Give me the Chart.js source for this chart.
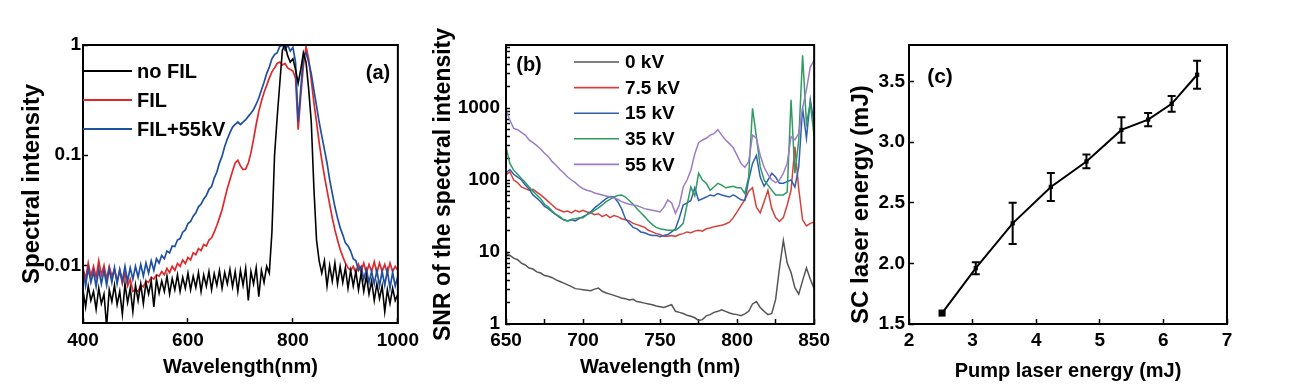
<!DOCTYPE html>
<html><head><meta charset="utf-8">
<script src="https://cdn.jsdelivr.net/npm/chart.js@4.4.1/dist/chart.umd.min.js"></script>
<style>
html,body{margin:0;padding:0;background:#fff;width:1293px;height:390px;overflow:hidden}
canvas{position:absolute;top:0}
</style></head><body>
<canvas id="ca" width="430" height="390" style="left:0px"></canvas>
<canvas id="cb" width="410" height="390" style="left:430px"></canvas>
<canvas id="cc" width="453" height="390" style="left:840px"></canvas>
<script>
// ---------- Panel (a) data: 400..1000 nm, 5 nm step ----------
const labelsA = ['no FIL', 'FIL', 'FIL+55kV'];
const ticksAX = [400, 600, 800, 1000];
const ticksAY = [0.01, 0.1, 1];
const noFIL = [
 .006,.0042,.0065,.0048,.0058,.004,.0062,.0045,.0055,.0028,
 .006,.0047,.0066,.0044,.0058,.0036,.0068,.0046,.0062,.0038,
 .0066,.0048,.0068,.0045,.007,.0055,.0072,.0042,.0075,.0056,
 .0072,.0058,.008,.0055,.0076,.006,.0082,.0058,.0078,.0062,
 .0085,.006,.008,.0063,.0086,.0058,.0082,.0065,.0088,.006,
 .0084,.0066,.009,.0062,.0086,.0068,.0092,.0064,.0088,.0058,
 .009,.0066,.0094,.0048,.0088,.0068,.0095,.0052,.009,.007,
 .0098,.0085,.02,.1,.22,.45,.9,1.0,.8,.7,
 .75,.6,.45,.6,.85,.7,.4,.2,.05,.017,
 .011,.0085,.011,.0065,.01,.0072,.0105,.0068,.0098,.007,
 .0095,.0062,.009,.0065,.0088,.006,.0085,.0058,.008,.0055,
 .0072,.0048,.0068,.005,.0065,.0038,.006,.0045,.0062,.0048,
 .0055];
const fil = [
 .0095,.0075,.0105,.008,.0098,.0078,.011,.0082,.01,.0075,
 .0098,.008,.0092,.0072,.009,.0068,.0085,.0065,.0075,.0058,
 .006,.0058,.0066,.0064,.0072,.007,.0078,.0075,.0082,.008,
 .0088,.0082,.0094,.0086,.0098,.009,.0104,.0098,.0112,.0104,
 .0118,.0112,.013,.0125,.0142,.0136,.0155,.015,.017,.0178,
 .02,.023,.027,.032,.04,.05,.06,.072,.085,.09,
 .08,.074,.075,.085,.105,.14,.19,.25,.31,.37,
 .43,.5,.57,.62,.68,.7,.66,.68,.62,.6,
 .58,.5,.17,.35,.65,.97,.75,.48,.3,.2,
 .13,.09,.065,.048,.036,.027,.021,.017,.014,.012,
 .0105,.0095,.009,.0098,.0085,.0102,.0088,.0105,.0085,.0102,
 .0088,.0108,.0085,.0105,.0088,.0102,.0085,.0105,.0088,.0098,
 .009];
const fil55 = [
 .009,.0065,.0095,.007,.0088,.0064,.0092,.0068,.009,.0066,
 .0093,.007,.0095,.0068,.0092,.0072,.0098,.0072,.0095,.0075,
 .0098,.0078,.0102,.008,.0105,.0085,.011,.009,.0115,.0105,
 .0123,.0115,.0135,.013,.015,.0148,.017,.0175,.02,.021,
 .024,.025,.028,.03,.034,.036,.04,.043,.049,.052,
 .062,.07,.085,.098,.12,.14,.16,.18,.19,.2,
 .19,.2,.21,.225,.24,.26,.29,.33,.39,.46,
 .55,.63,.75,.82,.85,.97,1.0,.9,1.0,.88,
 .95,.7,.2,.4,.8,.85,.7,.55,.39,.28,
 .2,.15,.113,.085,.06,.045,.034,.027,.022,.019,
 .016,.015,.0135,.0115,.011,.009,.0098,.0075,.0092,.007,
 .0088,.0068,.009,.0065,.0088,.0066,.009,.0062,.0086,.0065,
 .008];

// ---------- Panel (b) data: 650..850 nm, 2.5 nm step ----------
const labelsB = ['0 kV', '7.5 kV', '15 kV', '35 kV', '55 kV'];
const ticksBYmajor = [1, 10, 100, 1000];
const kv0 = [
 9.6,9.0,8.2,7.8,7.0,6.6,6.0,5.8,5.3,5.1,
 4.7,4.6,4.4,4.1,3.9,3.7,3.5,3.3,3.1,3.05,
 3.0,2.95,2.9,3.05,3.15,2.85,2.7,2.6,2.5,2.4,
 2.3,2.25,2.15,2.2,2.05,2.0,1.95,1.9,1.85,1.78,
 1.74,1.7,1.78,1.85,1.5,1.45,1.4,1.32,1.28,1.22,
 1.12,1.15,1.3,1.35,1.45,1.5,1.58,1.5,1.42,1.38,
 1.35,1.3,1.38,1.5,1.9,2.05,1.7,1.5,1.35,1.4,
 2.2,6.0,14.5,7.0,5.2,3.2,2.6,4.0,6.0,4.2,
 3.1];
const kv75 = [
 118,130,100,92,80,76,72,74,68,62,
 56,50,45,40,38,36,37,35,38,36,
 38,36,35,33,34,31,33,30,32,31,
 29,28,27,25,24,23,22,20,19,18,
 17.5,16.5,16.5,17,16.5,17.5,18,19,18.5,19.5,
 20,19.5,21,21.5,22.5,23,23.5,24.5,26,30,
 36,44,53,70,78,42,35,50,72,40,
 30,26.5,30,45,72,290,75,28,23,25,
 26];
const kv15 = [
 125,140,120,110,100,85,75,62,56,50,
 43,40,36,33,30,28,27,28,27,29,
 31,33,36,41,45,50,55,59,58,50,
 40,29,25,22,21,19,18.5,17.5,17,17,
 16.3,17,17.5,19,21,30,45,48,52,78,
 52,55,58,62,60,65,62,60,58,62,
 58,53,52,100,170,220,110,82,100,124,
 110,90,90,95,100,80,152,1000,380,1300,
 600];
const kv35 = [
 290,170,137,120,105,92,80,70,62,55,
 46,42,37,33,31,28,27,28.5,29,30,
 30,33,35,38,41,45,50,54,58,61,
 62,58,52,46,40,35,31,27,24,22,
 21,20.5,20,20,20,22,25,45,80,60,
 124,100,90,72,80,90,85,78,80,82,
 78,78,65,110,990,400,152,100,85,72,
 62,62,62,68,1300,124,360,5400,610,1160,
 400];
const kv55 = [
 940,680,520,500,460,420,360,330,300,270,
 235,210,180,160,140,125,110,100,92,82,
 76,72,70,66,64,62,60,58,56,54,
 50,48,46,45,44,42,40,39,38,37,
 36,42,53,48,34.5,45,80,100,137,230,
 330,360,380,420,440,500,420,360,320,280,
 220,170,150,180,420,380,220,150,120,100,
 92,100,124,170,400,360,445,1000,1800,3700,
 4600];

// ---------- Panel (c) data ----------
const pumpE = [2.52, 3.05, 3.63, 4.23, 4.79, 5.34, 5.76, 6.13, 6.53];
const scE   = [1.59, 1.96, 2.33, 2.63, 2.84, 3.10, 3.185, 3.315, 3.555];
const scErr = [0, 0.05, 0.17, 0.115, 0.057, 0.105, 0.055, 0.065, 0.115];
const ticksCX = [2, 3, 4, 5, 6, 7];
const ticksCY = [1.5, 2.0, 2.5, 3.0, 3.5];

// ---------- helpers ----------
const F = "'Liberation Sans', Arial, Helvetica, sans-serif";
Chart.defaults.font.family = F;
Chart.defaults.color = '#000';
const lamA = []; for (let w = 400; w <= 1000; w += 5) lamA.push(w);
const lamB = []; for (let i = 0; i <= 80; i++) lamB.push(650 + 2.5 * i);
const pts = (xs, ys) => ys.map((y, i) => ({x: xs[i], y}));
const setTicks = vals => s => { s.ticks = vals.map(v => ({value: v})); };

function decor(o) {
  return {
    id: 'decor' + o.tag,
    afterDraw(chart) {
      const {ctx, chartArea: a} = chart;
      ctx.save();
      ctx.strokeStyle = '#000'; ctx.lineWidth = 2;
      ctx.strokeRect(a.left, a.top, a.right - a.left, a.bottom - a.top);
      if (o.legend) {
        const L = o.legend;
        ctx.font = 'bold ' + L.size + 'px ' + F;
        ctx.textBaseline = 'middle'; ctx.textAlign = 'left';
        chart.data.datasets.forEach((d, i) => {
          const y = L.y0 + i * L.dy;
          ctx.strokeStyle = d.borderColor; ctx.lineWidth = L.lw;
          ctx.beginPath(); ctx.moveTo(L.x1, y); ctx.lineTo(L.x2, y); ctx.stroke();
          ctx.fillStyle = '#000';
          ctx.fillText(d.label, L.tx, y + 1);
        });
      }
      ctx.font = 'bold ' + o.tagSize + 'px ' + F;
      ctx.textAlign = 'center'; ctx.textBaseline = 'middle'; ctx.fillStyle = '#000';
      ctx.fillText(o.tag, o.tagX, o.tagY);
      ctx.restore();
    }
  };
}

const errorBars = {
  id: 'errorBars',
  afterDatasetsDraw(chart) {
    const {ctx, scales: {x, y}} = chart;
    ctx.save(); ctx.strokeStyle = '#000'; ctx.lineWidth = 2;
    pumpE.forEach((xv, i) => {
      const e = scErr[i]; if (!e) return;
      const px = x.getPixelForValue(xv);
      const yt = y.getPixelForValue(scE[i] + e), yb = y.getPixelForValue(scE[i] - e);
      ctx.beginPath();
      ctx.moveTo(px, yt); ctx.lineTo(px, yb);
      ctx.moveTo(px - 4, yt); ctx.lineTo(px + 4, yt);
      ctx.moveTo(px - 4, yb); ctx.lineTo(px + 4, yb);
      ctx.stroke();
    });
    ctx.restore();
  }
};

function axisX(o) {
  return {
    type: 'linear', min: o.min, max: o.max,
    afterBuildTicks: o.build, afterFit: s => { s.height = o.h; },
    border: {display: false},
    grid: {drawOnChartArea: false, drawTicks: true, tickLength: -5, tickWidth: 1.5, tickColor: '#000'},
    ticks: {font: {size: 19, weight: 'bold'}, color: '#000', padding: o.tp, maxRotation: 0, autoSkip: false, callback: o.cb},
    title: {display: true, text: o.title, font: {size: 20, weight: 'bold'}, color: '#000', padding: {top: 0, bottom: o.titlePad}}
  };
}
function axisY(o) {
  return {
    type: o.type, min: o.min, max: o.max,
    afterBuildTicks: o.build, afterFit: s => { s.width = o.w; },
    border: {display: false},
    grid: {drawOnChartArea: false, drawTicks: true, tickLength: o.tl || -5, tickWidth: 1.5, tickColor: '#000'},
    ticks: {font: {size: 19, weight: 'bold'}, color: '#000', padding: o.tp, autoSkip: false, callback: o.cb},
    title: {display: true, text: o.title, align: o.align || 'center', font: {size: o.ts, weight: 'bold'}, color: '#000', padding: {top: o.titlePad, bottom: 0}}
  };
}
const lineDS = (label, data, color, order, bw) => ({
  label, data, borderColor: color, backgroundColor: color, borderWidth: bw || 1.5,
  pointRadius: 0, tension: 0, order
});
const baseOpts = (pad) => ({
  responsive: false, animation: false, devicePixelRatio: 1,
  layout: {padding: pad},
  plugins: {legend: {display: false}, tooltip: {enabled: false}}
});

// ---------- Chart (a) ----------
new Chart(document.getElementById('ca'), {
  type: 'line',
  data: {datasets: [
    lineDS(labelsA[0], pts(lamA, noFIL), '#000000', 0, 1.6),
    lineDS(labelsA[1], pts(lamA, fil), '#e0282a', 2, 1.7),
    lineDS(labelsA[2], pts(lamA, fil55), '#1f4fa0', 1, 1.7)
  ]},
  options: Object.assign(baseOpts({left: 0, right: 29, top: 45, bottom: 0}), {
    scales: {
      x: axisX({min: 400, max: 1000, build: setTicks(ticksAX), h: 67, tp: 11, title: 'Wavelength(nm)', titlePad: 11}),
      y: axisY({type: 'logarithmic', min: 0.003, max: 1, build: setTicks(ticksAY), w: 83, tp: 7,
        cb: v => String(v), title: 'Spectral intensity', ts: 24, titlePad: 18})
    }
  }),
  plugins: [decor({tag: '(a)', tagSize: 20, tagX: 378, tagY: 73,
    legend: {x1: 83, x2: 132, tx: 137, y0: 71, dy: 29, size: 20, lw: 2.2}})]
});

// ---------- Chart (b) ----------
const minorB = [];
[1, 10, 100, 1000].forEach(d => { for (let k = 1; k <= 9; k++) if (d * k <= 7500) minorB.push(d * k); });
new Chart(document.getElementById('cb'), {
  type: 'line',
  data: {datasets: [
    lineDS(labelsB[0], pts(lamB, kv0), '#555555', 4),
    lineDS(labelsB[1], pts(lamB, kv75), '#d6403c', 3),
    lineDS(labelsB[2], pts(lamB, kv15), '#2f5fb0', 2),
    lineDS(labelsB[3], pts(lamB, kv35), '#2f9a62', 1),
    lineDS(labelsB[4], pts(lamB, kv55), '#9c7cc6', 0)
  ]},
  options: Object.assign(baseOpts({left: 0, right: 15, top: 45, bottom: 0}), {
    scales: {
      x: axisX({min: 650, max: 850, build: setTicks([650, 675, 700, 725, 750, 775, 800, 825, 850]), h: 66, tp: 10,
        cb: v => (v % 50 === 0 ? String(v) : ''), title: 'Wavelength (nm)', titlePad: 11}),
      y: axisY({type: 'logarithmic', min: 1, max: 7500, build: setTicks(minorB), w: 76, tp: 10, tl: -4,
        cb: v => (ticksBYmajor.includes(v) ? String(v) : ''), title: 'SNR of the spectral intensity', ts: 23, titlePad: 0})
    }
  }),
  plugins: [decor({tag: '(b)', tagSize: 20, tagX: 99, tagY: 65,
    legend: {x1: 144, x2: 189, tx: 195, y0: 62, dy: 25.6, size: 19, lw: 1.6}})]
});

// ---------- Chart (c) ----------
new Chart(document.getElementById('cc'), {
  type: 'line',
  data: {datasets: [{
    label: 'SC laser energy', data: pts(pumpE, scE),
    borderColor: '#000', backgroundColor: '#000', borderWidth: 2, tension: 0,
    pointStyle: 'rect', pointRadius: [5, 3, 3, 3, 3, 3, 3, 3, 3], pointBorderWidth: 0
  }]},
  options: Object.assign(baseOpts({left: 0, right: 66, top: 45, bottom: 0}), {
    scales: {
      x: axisX({min: 2, max: 7, build: setTicks(ticksCX), h: 66, tp: 10, cb: v => String(v),
        title: 'Pump laser energy (mJ)', titlePad: 7}),
      y: axisY({type: 'linear', min: 1.5, max: 3.8, build: setTicks(ticksCY), w: 69, tp: 9,
        cb: v => v.toFixed(1), title: 'SC laser energy (mJ)', ts: 24, titlePad: 7, align: 'start'})
    }
  }),
  plugins: [errorBars, decor({tag: '(c)', tagSize: 21, tagX: 100, tagY: 77})]
});
</script>
</body></html>
